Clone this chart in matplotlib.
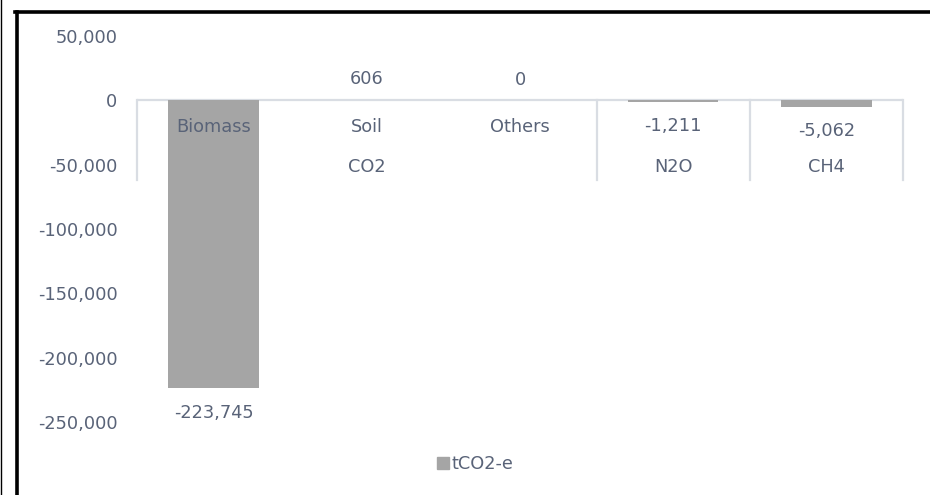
import numpy as np
import matplotlib
matplotlib.use("Agg")
from matplotlib import pyplot as plt
from matplotlib.patches import Patch
from matplotlib.lines import Line2D
import matplotlib.transforms as mtransforms

# emissions by source, tonnes CO2-equivalent
sources = ["Biomass", "Soil", "Others", "", ""]
gases = ["CO2", "N2O", "CH4"]
gas_spans = [3, 1, 1]  # how many sources sit under each gas
values = [-223745, 606, 0, -1211, -5062]
yticks = [50000, 0, -50000, -100000, -150000, -200000, -250000]

text_col = "#596378"
bar_col = "#a5a5a5"
line_col = "#d9dde3"
fs = 12.8

plt.rcParams["font.family"] = ["DejaVu Sans"]

fig = plt.figure(figsize=(9.3, 4.95), dpi=100)
ax = fig.add_axes([137 / 930, 73 / 495, 766 / 930, 386 / 495])

x = np.arange(len(values))
bars = ax.bar(x, values, width=0.59, color=bar_col, zorder=2)

ax.set_xlim(-0.5, len(values) - 0.5)
ax.set_ylim(-250000, 50000)
ax.set_yticks(yticks)
ax.set_yticklabels([f"{v:,}" for v in yticks], fontsize=fs, color=text_col)
ax.tick_params(axis="y", length=0, pad=14)
ax.set_xticks([])
for s in ax.spines.values():
    s.set_visible(False)

# zero line and group dividers
ax.axhline(0, color=line_col, lw=1.6, zorder=1)
trans = mtransforms.blended_transform_factory(ax.transData, ax.transAxes)
edges = np.concatenate([[0], np.cumsum(gas_spans)]) - 0.5
for e in edges:
    ax.plot([e, e], [0.628, 0.834], color=line_col, lw=1.6,
            transform=trans, clip_on=False)

# category labels, two levels
for xi, name in zip(x, sources):
    ax.text(xi, 0.764, name, transform=trans, ha="center", va="center",
            fontsize=fs, color=text_col)
for i, g in enumerate(gases):
    mid = (edges[i] + edges[i + 1]) / 2
    ax.text(mid, 0.661, g, transform=trans, ha="center", va="center",
            fontsize=fs, color=text_col)

# value labels
for xi, v in zip(x, values):
    off = 14.5 if v >= 0 else -17.5
    ax.annotate(f"{v:,}", (xi, v), xytext=(0, off), textcoords="offset points",
                ha="center", va="center", fontsize=fs, color=text_col)

fig.legend(handles=[Patch(color=bar_col, label="tCO2-e")], loc="center",
           bbox_to_anchor=(475 / 930, 31 / 495), frameon=False,
           handlelength=0.7, handleheight=0.7, handletextpad=0.15,
           prop={"size": fs}, labelcolor=text_col)

# frame lines
fig.add_artist(Line2D([16.5 / 930, 16.5 / 930], [0, 483.5 / 495], color="black",
                      lw=2.6, transform=fig.transFigure))
fig.add_artist(Line2D([15 / 930, 1], [483.5 / 495, 483.5 / 495], color="black",
                      lw=2.6, transform=fig.transFigure))
fig.add_artist(Line2D([0.7 / 930, 0.7 / 930], [0, 1], color="black",
                      lw=1.0, transform=fig.transFigure))

fig.savefig("out.png", dpi=100)
